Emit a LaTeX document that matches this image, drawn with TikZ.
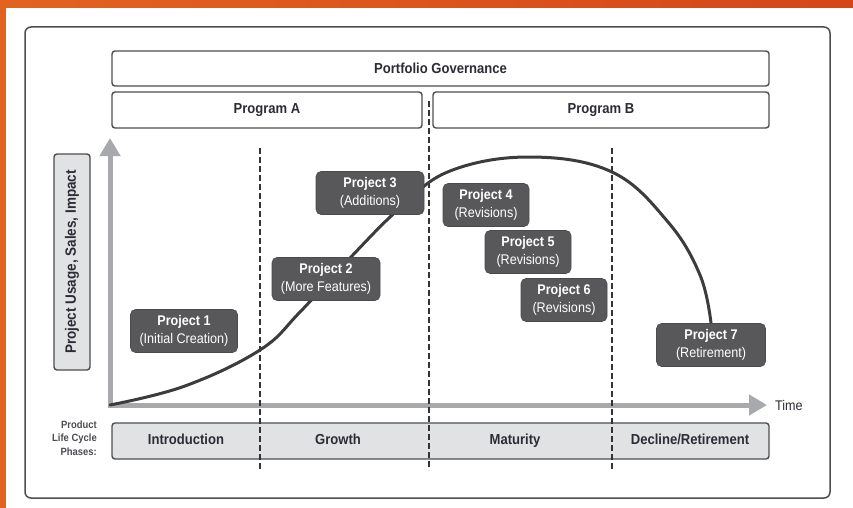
\documentclass[tikz,border=0pt]{standalone}
\usepackage{fontspec}
\setmainfont{Liberation Sans}[FakeStretch=0.9]
\usetikzlibrary{arrows.meta}

\definecolor{bgorangeL}{HTML}{E2631F}
\definecolor{bgorangeR}{HTML}{D4461A}
\definecolor{framegray}{HTML}{4E4E50}
\definecolor{boxdark}{HTML}{58585A}
\definecolor{barfill}{HTML}{E1E2E4}
\definecolor{axisgray}{HTML}{A7A9AC}
\definecolor{curvegray}{HTML}{3C3C3E}
\definecolor{inktext}{HTML}{2C2C34}

\tikzset{
  frame/.style={draw=framegray, line width=1.5pt, rounded corners=6pt},
  hdrbox/.style={draw=framegray, line width=1.4pt, fill=white, rounded corners=3pt,
    inner sep=0pt, text=inktext, font=\bfseries\fontsize{14.5}{17}\selectfont},
  phasebar/.style={draw=framegray, line width=1.4pt, fill=barfill, rounded corners=3pt},
  phaselabel/.style={text=inktext, inner sep=0pt, text height=10.5pt, text depth=3pt,
    font=\bfseries\fontsize{14.5}{17}\selectfont},
  projbox/.style={fill=boxdark, draw=boxdark!85!black, line width=0.6pt, rounded corners=5pt,
    inner sep=0pt, minimum height=43pt, align=center, text=white,
    font=\fontsize{14}{18}\selectfont},
  axisline/.style={draw=axisgray, line width=5pt, line join=miter,
    {Triangle[length=18pt,width=20pt]}-{Triangle[length=18pt,width=20pt]}},
  lifecurve/.style={draw=curvegray, line width=3pt, line cap=round},
  divider/.style={draw=black!80, line width=1.1pt, dash pattern=on 6pt off 3pt}
}

\newcommand{\projtext}[2]{\textbf{#1}\\#2}

\begin{document}
\begin{tikzpicture}[x=1pt, y=-1pt]
\useasboundingbox (0,0) rectangle (853,508);

% page background and white sheet
\fill[left color=bgorangeL, right color=bgorangeR] (0,0) rectangle (853,508);
\fill[white] (6,8) rectangle (853,508);
\draw[frame] (25,27) rectangle (830,498);

% governance headers
\node[hdrbox, minimum width=657pt, minimum height=35pt] (gov) at (440.5,68.5) {Portfolio Governance};
\node[hdrbox, minimum width=310pt, minimum height=36pt] (pgA) at (267,110) {Program A};
\node[hdrbox, minimum width=336pt, minimum height=36pt] (pgB) at (601,110) {Program B};

% vertical axis label
\node[phasebar, minimum width=36pt, minimum height=216pt] (ylab) at (72,262) {};
\node[rotate=90, text=inktext, inner sep=0pt, font=\bfseries\fontsize{15}{17}\selectfont]
  (ylabtext) at (ylab.center) {Project Usage, Sales, Impact};

% life cycle phases bar
\node[phasebar, minimum width=657pt, minimum height=36pt] (phases) at (440.5,441) {};
\node[phaselabel] (intro) at (186,441) {Introduction};
\node[phaselabel] (growth) at (338,441) {Growth};
\node[phaselabel] (matur) at (515,441) {Maturity};
\node[phaselabel] (decl) at (690,441) {Decline/Retirement};
\node[anchor=east, align=right, inner sep=0pt, text=inktext!85,
  font=\bfseries\fontsize{10.5}{13.5}\selectfont] (plcp) at (97,438)
  {Product\\Life Cycle\\Phases:};

% axes
\coordinate (ytip) at (110,138);
\coordinate (origin) at (110,405);
\coordinate (xtip) at (767,405);
\draw[axisline] (ytip) -- (origin) -- (xtip);
\node[anchor=west, inner sep=0pt, text=inktext, font=\fontsize{14}{17}\selectfont]
  (timelab) at (775,405) {Time};

% phase dividers
\coordinate (d1t) at (260,148); \coordinate (d1b) at (260,470);
\coordinate (d2t) at (429,101); \coordinate (d2b) at (429,470);
\coordinate (d3t) at (612,148); \coordinate (d3b) at (612,470);
\draw[divider] (d1t) -- (d1b);
\draw[divider] (d2t) -- (d2b);
\draw[divider] (d3t) -- (d3b);

% product life cycle curve, running behind the project boxes
\coordinate (p7top) at (711,323);
\draw[lifecurve] plot[smooth, tension=0.65] coordinates {
  (110,405) (185,386) (260,350) (300,312) (350,258) (400,208) (450,171)
  (530,157) (612,172) (668,222) (700,275) (711,323)};

% project boxes
\node[projbox, minimum width=107pt] (p1) at (184,331) {\projtext{Project 1}{(Initial Creation)}};
\node[projbox, minimum width=108pt] (p2) at (326,279) {\projtext{Project 2}{(More Features)}};
\node[projbox, minimum width=108pt] (p3) at (370,193) {\projtext{Project 3}{(Additions)}};
\node[projbox, minimum width=86pt] (p4) at (486,205) {\projtext{Project 4}{(Revisions)}};
\node[projbox, minimum width=86pt] (p5) at (528,252) {\projtext{Project 5}{(Revisions)}};
\node[projbox, minimum width=86pt] (p6) at (564,300) {\projtext{Project 6}{(Revisions)}};
\node[projbox, minimum width=109pt] (p7) at (711,345) {\projtext{Project 7}{(Retirement)}};

\end{tikzpicture}
\end{document}
